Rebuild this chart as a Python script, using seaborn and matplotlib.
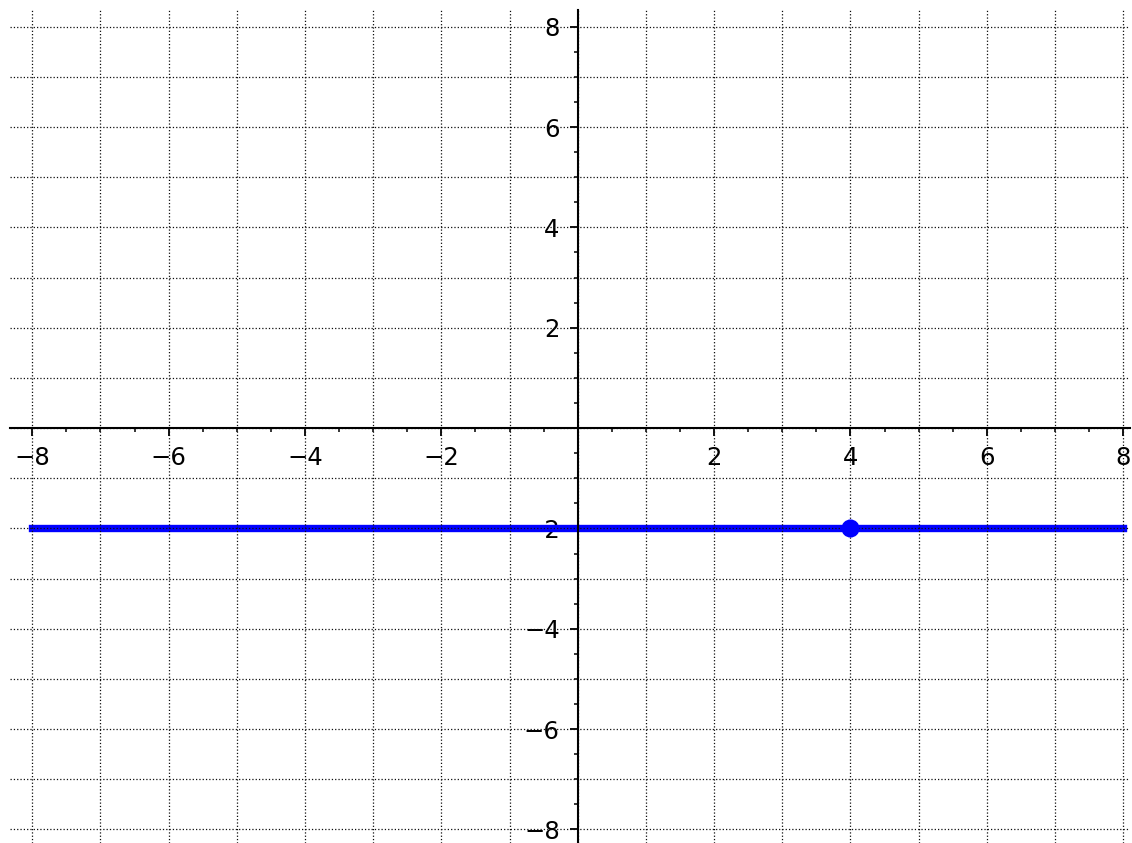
import numpy as np
import pandas as pd
import matplotlib
matplotlib.use("Agg")
import matplotlib.pyplot as plt
import seaborn as sns
from matplotlib.ticker import MultipleLocator, FuncFormatter

# 数据：水平线 y = -2，以及点 (4, -2)
line_x = [-8, 8]
line_y = [-2, -2]
point_x = [4]
point_y = [-2]

sns.set_style("white")
plt.rcParams['font.family'] = ['DejaVu Sans']

fig = plt.figure(figsize=(11.32, 8.43), dpi=100)
ax = fig.add_axes([10 / 1132, 0, 1120 / 1132, 833 / 843])

line_df = pd.DataFrame({"x": line_x, "y": line_y})
pt_df = pd.DataFrame({"x": point_x, "y": point_y})
sns.lineplot(data=line_df, x="x", y="y", ax=ax, color="blue", linewidth=5.3,
             solid_capstyle="projecting", zorder=2)
sns.scatterplot(data=pt_df, x="x", y="y", ax=ax, color="blue", s=170,
                edgecolor="blue", linewidth=0, zorder=3)

ax.set_xlim(-8.327, 8.1)
ax.set_ylim(-8.27, 8.333)

# 坐标轴穿过原点
for side in ["top", "right"]:
    ax.spines[side].set_visible(False)
for side in ["left", "bottom"]:
    ax.spines[side].set_position(("data", 0))
    ax.spines[side].set_linewidth(1.5)
    ax.spines[side].set_color("black")

ax.xaxis.set_major_locator(MultipleLocator(2))
ax.xaxis.set_minor_locator(MultipleLocator(0.5))
ax.yaxis.set_major_locator(MultipleLocator(2))
ax.yaxis.set_minor_locator(MultipleLocator(0.5))
fmt = FuncFormatter(lambda v, p: "" if abs(v) < 1e-9 else f"{v:g}".replace("-", "\u2212"))
ax.xaxis.set_major_formatter(fmt)
ax.yaxis.set_major_formatter(fmt)
ax.tick_params(which="major", direction="out", length=6, width=1.3, labelsize=17.5,
               colors="black", pad=7)
ax.tick_params(which="minor", direction="out", length=3, width=1.1, colors="black")
ax.tick_params(axis="x", which="both", bottom=True)
ax.tick_params(axis="y", which="both", left=True)

# 网格线：每 1 个单位
for v in range(-8, 9):
    ax.axvline(v, color="0.05", linestyle=":", linewidth=0.9, zorder=2.5)
    ax.axhline(v, color="0.05", linestyle=":", linewidth=0.9, zorder=2.5)

ax.set_xlabel("")
ax.set_ylabel("")

plt.savefig("out.png", dpi=100)
